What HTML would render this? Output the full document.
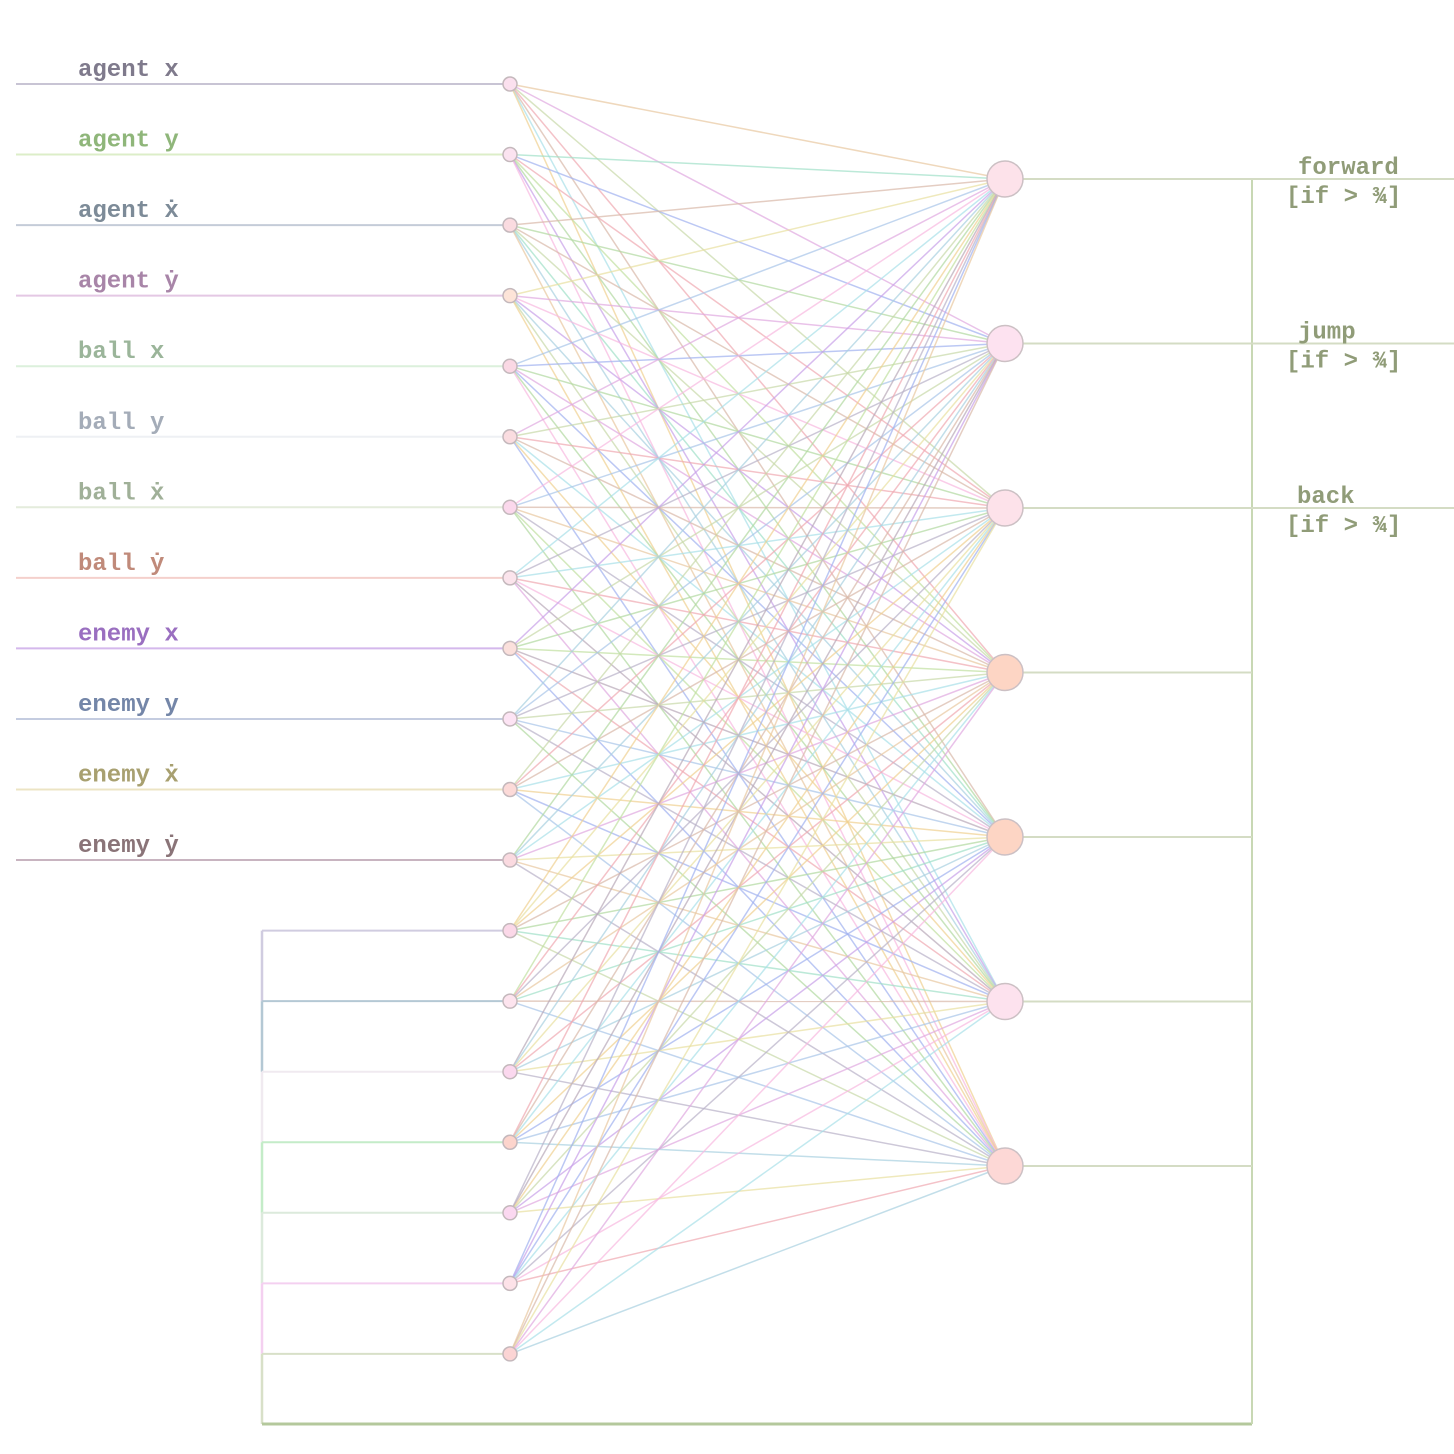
<!DOCTYPE html>
<html><head><meta charset="utf-8"><style>
html,body{margin:0;padding:0;background:#fff;width:1454px;height:1454px;overflow:hidden}
svg text{font-family:"Liberation Mono","DejaVu Sans Mono",monospace;font-size:24px;font-weight:bold}
</style></head><body>
<svg id="net" width="1454" height="1454" xmlns="http://www.w3.org/2000/svg"></svg>
<script>
const inputLabels=["agent x","agent y","agent ẋ","agent ẏ","ball x","ball y","ball ẋ","ball ẏ","enemy x","enemy y","enemy ẋ","enemy ẏ"];
const labelColors=["#7f7a8c","#8fb67a","#7d8b98","#a885a8","#9bb59a","#a4acb8","#a0b098","#c08a7a","#9a6fc0","#7486a8","#a8a070","#8a7478"];
const lineColors=["#c8c4d4","#dceec8","#c4ccd8","#e4c8e4","#dcf0dc","#eef0f4","#e4ecdc","#f4d0cc","#d4b8ec","#c4cce0","#ece4c4","#c8b4c0"];
const recurColors=["#d0cce0","#b4c8d4","#f0eaf0","#c4ecc8","#dceadc","#f4d0f0","#d8e0c8"];
const outputLabels=["forward","jump","back"];
const inputFills=["#fbe0ee","#fbe3f0","#fadbe0","#fde4d8","#fad8e4","#fadce0","#fbd8ec","#fbe4ec","#fbe0dc","#fde4f4","#fcdad8","#fadae0","#fbd8e8","#fde4ee","#fbd8ee","#fcd4cc","#fbd8f0","#fde2e8","#fbd4d4"];
const outputFills=["#fde2ea","#fde2f0","#fde2ea","#fdd5c4","#fdd5c4","#fde2ee","#fdd8d6"];
const edgePalette=["#e8c8a0","#b0d8a0","#a8c4e8","#f0a8b0","#c8a0e8","#a0e0c8","#f0d090","#e0a8e0","#b8b0c8","#a8d0e0","#d8b8a8","#c0e0a0","#f8b8e0","#a0b0f0","#c8d8a8","#e8e0a0","#b8a8b8","#a8e0e8"];
const NIN=19,NOUT=7;
const svg=document.getElementById('net');
const NS="http://www.w3.org/2000/svg";
function inY(i){return 84+i*70.55;}
function outY(j){return 179+j*164.5;}
const IX=510,OX=1005;
function mk(tag,attrs){const e=document.createElementNS(NS,tag);for(const k in attrs)e.setAttribute(k,attrs[k]);svg.appendChild(e);return e;}
for(let i=0;i<12;i++){
  const l=mk('line',{x1:16,y1:inY(i),x2:IX,y2:inY(i),stroke:lineColors[i],'stroke-width':2});
  
  
  const t=mk('text',{x:78,y:inY(i)-8,fill:labelColors[i]});t.textContent=inputLabels[i];
  
  
}
for(let k=0;k<7;k++){
  const y=inY(12+k);
  const l=mk('line',{x1:262,y1:y,x2:IX,y2:y,stroke:recurColors[k],'stroke-width':2});
  
  
  const v=mk('line',{x1:262,y1:y,x2:262,y2:k<6?inY(13+k):1424,stroke:recurColors[k],'stroke-width':2.5});
  
  
}
const bot=mk('line',{x1:262,y1:1424,x2:1252,y2:1424,stroke:"#b4c89c",'stroke-width':3});


const vr=mk('line',{x1:1252,y1:outY(0),x2:1252,y2:1424,stroke:"#c8d8b4",'stroke-width':2});


for(let i=0;i<NIN;i++)for(let j=0;j<NOUT;j++){
  const c=edgePalette[(i*5+j*7+(i*j)%5)%edgePalette.length];
  const e=mk('line',{x1:IX,y1:inY(i),x2:OX,y2:outY(j),stroke:c,'stroke-width':1.5,'stroke-opacity':0.7});
  
  
}
for(let j=0;j<NOUT;j++){
  const l=mk('line',{x1:OX,y1:outY(j),x2:j<3?1454:1252,y2:outY(j),stroke:"#d4dcc4",'stroke-width':2});
  
  
}
for(let j=0;j<3;j++){
  const t=mk('text',{x:[1298,1298,1297][j],y:outY(j)-5,fill:"#909c78"});t.textContent=outputLabels[j];
  
  
  const t2=mk('text',{x:1286,y:outY(j)+24,fill:"#909c78"});t2.textContent="[if > ¾]";
  
  
}
for(let i=0;i<NIN;i++){
  const c=mk('circle',{cx:IX,cy:inY(i),r:7,fill:inputFills[i],stroke:"#c4b8bc",'stroke-width':1.5});
  
  
}
for(let j=0;j<NOUT;j++){
  const c=mk('circle',{cx:OX,cy:outY(j),r:18,fill:outputFills[j],stroke:"#ccc0c4",'stroke-width':1.5});
  
  
}
</script>
</body></html>
